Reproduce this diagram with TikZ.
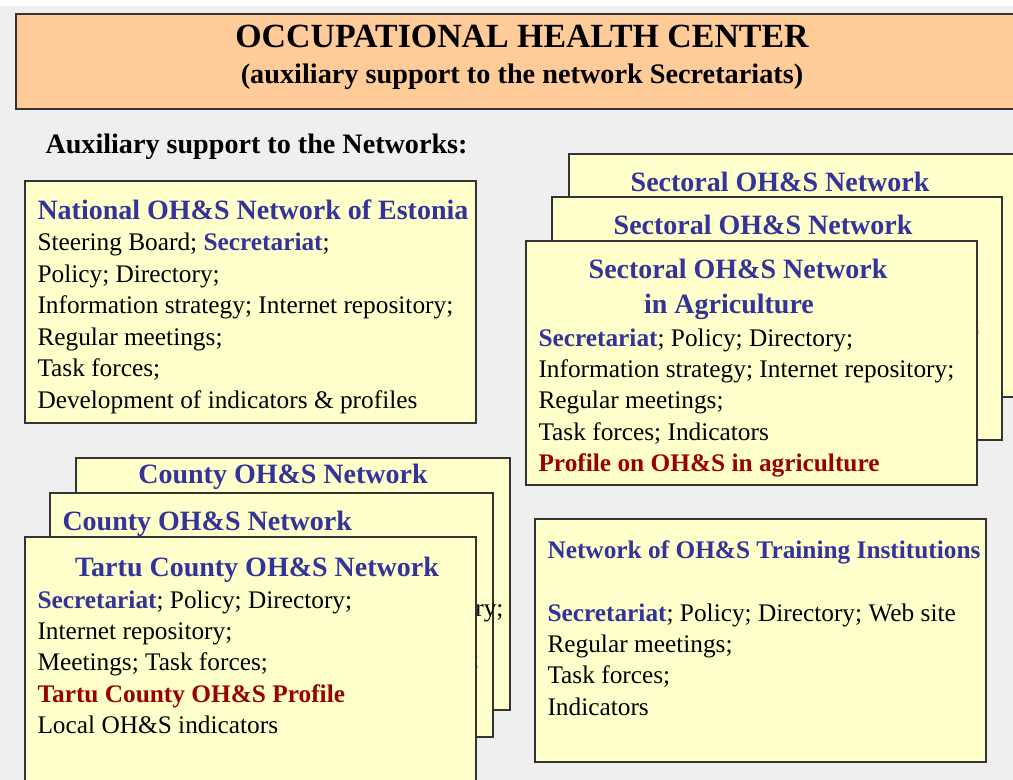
\documentclass[tikz,border=0pt]{standalone}
\usepackage{fontspec}
\setmainfont{Liberation Serif}
\definecolor{ohsblue}{HTML}{333399}
\definecolor{ohsred}{HTML}{990000}
\definecolor{boxyellow}{HTML}{FFFFCC}
\definecolor{titleorange}{HTML}{FFCC99}
\definecolor{bggrey}{HTML}{EFEFEF}
\tikzset{every picture/.style={line width=0.75pt}}
\tikzset{
  netbox/.style={draw=black!80, fill=boxyellow, line width=1pt},
  bodytxt/.style={anchor=base west, inner sep=0pt, font=\fontsize{19}{22}\selectfont},
  headtxt/.style={anchor=base, inner sep=0pt, text=ohsblue, font=\fontsize{21}{25}\selectfont\bfseries},
  redtxt/.style={bodytxt, text=ohsred, font=\fontsize{19}{22}\selectfont\bfseries},
}
\newcommand{\secr}{\textcolor{ohsblue}{\bfseries Secretariat}}

\begin{document}
\begin{tikzpicture}[x=0.75pt,y=0.75pt,yscale=-1,xscale=1]
    \useasboundingbox (0,0) rectangle (1013,780);
    \clip (0,0) rectangle (1013,780);
    %Background
    \fill[bggrey] (0,6) rectangle (1013,780);

    %Shape: Title box
    \draw[draw=black!80, fill=titleorange, line width=1pt] (16,14) rectangle (1025,109);
    \node[anchor=base, inner sep=0pt, font=\fontsize{25.4}{30}\selectfont\bfseries] (title) at (522,48) {OCCUPATIONAL HEALTH CENTER};
    \node[anchor=base, inner sep=0pt, font=\fontsize{21.2}{25}\selectfont\bfseries] (subtitle) at (522,84) {(auxiliary support to the network Secretariats)};

    %Text: heading
    \node[anchor=base west, inner sep=0pt, font=\fontsize{21.1}{25}\selectfont\bfseries] (aux) at (45,154) {Auxiliary support to the Networks:};

    %Shape: National network
    \draw[netbox] (25,181) rectangle (476,423);
    \node[headtxt, anchor=base west] (nat) at (37,220) {National OH\&S Network of Estonia};
    \node[bodytxt] (nat1) at (37,251) {Steering Board; \secr;};
    \node[bodytxt] (nat2) at (37,282.4) {Policy; Directory;};
    \node[bodytxt] (nat3) at (37,313.8) {Information strategy; Internet repository;};
    \node[bodytxt] (nat4) at (37,345.2) {Regular meetings;};
    \node[bodytxt] (nat5) at (37,376.6) {Task forces;};
    \node[bodytxt] (nat6) at (37,408) {Development of indicators \& profiles};

    %Shape: Sectoral networks (stack)
    \draw[netbox] (569,154) rectangle (1025,397);
    \node[headtxt] (sec1) at (780,192) {Sectoral OH\&S Network};
    \draw[netbox] (552,197) rectangle (1002,440);
    \node[headtxt] (sec2) at (763,235) {Sectoral OH\&S Network};
    \node[bodytxt, anchor=base east] (sec2a) at (981,334) {Directory;};
    \draw[netbox] (526,241) rectangle (977,485);
    \node[headtxt] (agr) at (738,279) {Sectoral OH\&S Network};
    \node[headtxt] (agr0) at (729,314) {in Agriculture};
    \node[bodytxt] (agr1) at (538,346) {\secr; Policy; Directory;};
    \node[bodytxt] (agr2) at (538,377.4) {Information strategy; Internet repository;};
    \node[bodytxt] (agr3) at (538,408.8) {Regular meetings;};
    \node[bodytxt] (agr4) at (538,440.2) {Task forces; Indicators};
    \node[redtxt] (agr5) at (538,471.6) {Profile on OH\&S in agriculture};

    %Shape: County networks (stack)
    \draw[netbox] (76,458) rectangle (510,710);
    \node[headtxt] (cty1) at (283,483) {County OH\&S Network};
    \draw[netbox] (50,493) rectangle (493,737);
    \node[headtxt, anchor=base west] (cty2) at (62,530) {County OH\&S Network};
    \node[bodytxt, anchor=base east] (cty2a) at (504,616) {Directory;};
    \node[bodytxt, anchor=base east] (cty2b) at (480,667) {forces;};
    \draw[netbox] (25,537) rectangle (476,795);
    \node[headtxt] (tartu) at (257,576) {Tartu County OH\&S Network};
    \node[bodytxt] (tartu1) at (37,608) {\secr; Policy; Directory;};
    \node[bodytxt] (tartu2) at (37,639.4) {Internet repository;};
    \node[bodytxt] (tartu3) at (37,670.8) {Meetings; Task forces;};
    \node[redtxt] (tartu4) at (37,702.2) {Tartu County OH\&S Profile};
    \node[bodytxt] (tartu5) at (37,733.6) {Local OH\&S indicators};

    %Shape: Training institutions
    \draw[netbox] (535,519) rectangle (986,762);
    \node[headtxt, anchor=base west, font=\fontsize{19}{22}\selectfont\bfseries] (train) at (547,558) {Network of OH\&S Training Institutions};
    \node[bodytxt] (train1) at (547,621) {\secr; Policy; Directory; Web site};
    \node[bodytxt] (train2) at (547,652.4) {Regular meetings;};
    \node[bodytxt] (train3) at (547,683.8) {Task forces;};
    \node[bodytxt] (train4) at (547,715.2) {Indicators};

\end{tikzpicture}
\end{document}
